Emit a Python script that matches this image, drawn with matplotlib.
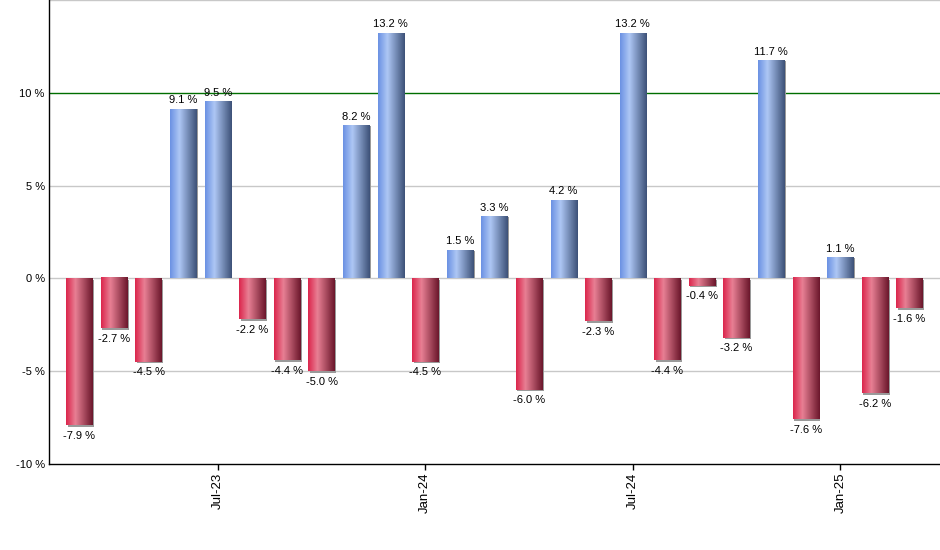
import numpy as np
import matplotlib.pyplot as plt
from matplotlib.colors import LinearSegmentedColormap
from matplotlib.patches import Rectangle

months = ["Mar-23", "Apr-23", "May-23", "Jun-23", "Jul-23", "Aug-23", "Sep-23", "Oct-23",
          "Nov-23", "Dec-23", "Jan-24", "Feb-24", "Mar-24", "Apr-24", "May-24", "Jun-24",
          "Jul-24", "Aug-24", "Sep-24", "Oct-24", "Nov-24", "Dec-24", "Jan-25", "Feb-25", "Mar-25"]
returns = [-7.9, -2.7, -4.5, 9.1, 9.5, -2.2, -4.4, -5.0, 8.2, 13.2, -4.5, 1.5, 3.3,
           -6.0, 4.2, -2.3, 13.2, -4.4, -0.4, -3.2, 11.7, -7.6, 1.1, -6.2, -1.6]
tick_labels = ["Jul-23", "Jan-24", "Jul-24", "Jan-25"]
y_ticks = [-10, -5, 0, 5, 10]

plt.rcParams['font.family'] = ['Liberation Sans', 'DejaVu Sans']

blue_cm = LinearSegmentedColormap.from_list(
    "blu", [(0, (0.42, 0.57, 0.89)), (0.35, (0.68, 0.78, 0.96)), (1, (0.24, 0.32, 0.47))])
red_cm = LinearSegmentedColormap.from_list(
    "rd", [(0, (0.86, 0.15, 0.30)), (0.35, (0.91, 0.50, 0.58)), (1, (0.42, 0.09, 0.17))])

fig = plt.figure(figsize=(9.4, 5.5), dpi=100)
ax = fig.add_axes([0.0521, 0.1564, 0.9479, 0.8436])

x = np.arange(len(returns))
w = 0.76
grad = np.linspace(0, 1, 64).reshape(1, -1)
px = 1 / 34.6          # one pixel in x data units
py = 25 / 464.0        # one pixel in y data units

for xi, v in zip(x, returns):
    x0 = xi - w / 2
    if v >= 0:
        ax.add_patch(Rectangle((x0 + 1.5 * px, 0), w, v, color="#9a9a9a", zorder=2, lw=0))
        ax.imshow(grad, cmap=blue_cm, extent=(x0, x0 + w, 0, v), aspect="auto",
                  zorder=3, interpolation="bilinear")
        ax.annotate(f"{v:.1f} %", (xi, v), xytext=(0, 3), textcoords="offset points",
                    ha="center", va="bottom", fontsize=8)
    else:
        ax.add_patch(Rectangle((x0 + 1.5 * px, -1.5 * py), w, v, color="#9a9a9a", zorder=2, lw=0))
        ax.imshow(grad, cmap=red_cm, extent=(x0, x0 + w, v, 0), aspect="auto",
                  zorder=3, interpolation="bilinear")
        ax.annotate(f"{v:.1f} %", (xi, v), xytext=(0, -4), textcoords="offset points",
                    ha="center", va="top", fontsize=8)

ax.set_xlim(-0.88, len(returns) - 1 + 0.88)
ax.set_ylim(-10, 15)

for g in [-5, 0, 5, 15]:
    ax.axhline(g, color="#c8c8c8", lw=1, zorder=1)
ax.axhline(10, color="#006e00", lw=1, zorder=1)

ax.set_yticks(y_ticks)
ax.set_yticklabels([f"{t} %" for t in y_ticks], fontsize=8)
ax.tick_params(axis="y", length=0, pad=3)

pos = [months.index(t) for t in tick_labels]
ax.set_xticks(pos)
ax.set_xticklabels(tick_labels, rotation=90, fontsize=9.5)
ax.tick_params(axis="x", length=4, width=1, pad=2)

for s in ["top", "right"]:
    ax.spines[s].set_visible(False)
ax.spines["left"].set_linewidth(1)
ax.spines["bottom"].set_linewidth(1)

fig.savefig("out.png", dpi=100)
